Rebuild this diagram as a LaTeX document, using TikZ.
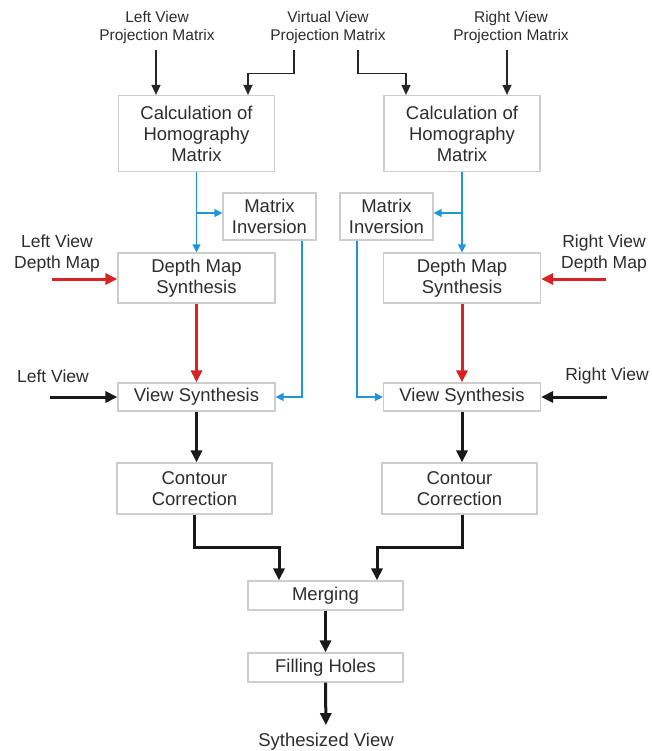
\documentclass[tikz,border=0pt]{standalone}
\usepackage{fontspec}
\setmainfont{Liberation Sans}
\usetikzlibrary{arrows.meta}
\definecolor{boxgray}{RGB}{205,205,205}
\definecolor{lineblue}{RGB}{30,150,215}
\definecolor{linered}{RGB}{215,35,35}
\definecolor{textgray}{RGB}{45,45,45}

\begin{document}
\begin{tikzpicture}[x=1pt,y=-1pt,
    box/.style={draw=boxgray, line width=1.2pt, align=center, text=textgray, inner sep=0pt, font=\fontsize{18.5}{21}\selectfont},
    lbl/.style={align=center, text=textgray, inner sep=0pt, font=\fontsize{17.5}{21}\selectfont},
    toplbl/.style={align=center, text=textgray, inner sep=0pt, font=\fontsize{15.5}{18}\selectfont},
    thinarrow/.style={-{Triangle[length=10pt,width=9pt]}, line width=1.5pt, black!85},
    bluearrow/.style={-{Triangle[length=8pt,width=8pt]}, line width=1.3pt, lineblue},
    redarrow/.style={-{Triangle[length=12pt,width=11pt]}, line width=3pt, linered},
    thickarrow/.style={-{Triangle[length=12pt,width=11pt]}, line width=3pt, black!90}]
    \useasboundingbox (0,0) rectangle (652,751);

    % Projection matrices:
    \node[toplbl] (lproj) at (157,27) {Left View\\Projection Matrix};
    \node[toplbl] (vproj) at (328,27) {Virtual View\\Projection Matrix};
    \node[toplbl] (rproj) at (511,27) {Right View\\Projection Matrix};

    % Boxes, left branch:
    \node[box, minimum width=156pt, minimum height=76pt] (calcL) at (196.5,133.5) {Calculation of\\Homography\\Matrix};
    \node[box, minimum width=93pt, minimum height=47pt] (invL) at (269.5,216.5) {Matrix\\Inversion};
    \node[box, minimum width=157pt, minimum height=50pt] (depthL) at (196.5,278) {Depth Map\\Synthesis};
    \node[box, minimum width=157pt, minimum height=28pt] (viewL) at (196.5,397) {View Synthesis};
    \node[box, minimum width=155pt, minimum height=51pt] (contL) at (194.5,488.5) {Contour\\Correction};

    % Boxes, right branch:
    \node[box, minimum width=156pt, minimum height=76pt] (calcR) at (462,133.5) {Calculation of\\Homography\\Matrix};
    \node[box, minimum width=93pt, minimum height=47pt] (invR) at (386.5,216.5) {Matrix\\Inversion};
    \node[box, minimum width=157pt, minimum height=50pt] (depthR) at (462,278) {Depth Map\\Synthesis};
    \node[box, minimum width=157pt, minimum height=28pt] (viewR) at (462,397) {View Synthesis};
    \node[box, minimum width=155pt, minimum height=51pt] (contR) at (459.5,488.5) {Contour\\Correction};

    % Common part:
    \node[box, minimum width=155pt, minimum height=29pt] (merge) at (325.5,595.5) {Merging};
    \node[box, minimum width=155pt, minimum height=29pt] (fill) at (325.5,667.5) {Filling Holes};
    \node[lbl, font=\fontsize{18.5}{21}\selectfont] (out) at (326,742) {Sythesized View};

    % Side inputs:
    \node[lbl] (ldepth) at (57,253) {Left View\\Depth Map};
    \node[lbl] (rdepth) at (604,253) {Right View\\Depth Map};
    \node[lbl] (lview) at (53,376) {Left View};
    \node[lbl] (rview) at (607,376) {Right View};
    \coordinate (ldin) at (52,279);
    \coordinate (rdin) at (606,279);
    \coordinate (lvin) at (50,397);
    \coordinate (rvin) at (607,397);

    % Top arrows:
    \draw[thinarrow, shorten <=7pt] (lproj.south -| 156,0) -- (calcL.north -| 156,0);
    \draw[thinarrow, shorten <=7pt] ([xshift=-34pt]vproj.south) -- ++(0,30) -| ([xshift=51.5pt]calcL.north);
    \draw[thinarrow, shorten <=7pt] ([xshift=30pt]vproj.south) -- ++(0,30) -| ([xshift=-56pt]calcR.north);
    \draw[thinarrow, shorten <=7pt] (rproj.south -| 507,0) -- (calcR.north -| 507,0);

    % Blue connectors:
    \draw[bluearrow] (calcL.south) -- (depthL.north);
    \draw[bluearrow] (calcL.south |- 0,213) -- (invL.west |- 0,213);
    \draw[bluearrow] ([xshift=32.5pt]invL.south) |- (viewL.east);
    \draw[bluearrow] (calcR.south) -- (depthR.north);
    \draw[bluearrow] (calcR.south |- 0,213) -- (invR.east |- 0,213);
    \draw[bluearrow] ([xshift=-29.5pt]invR.south) |- (viewR.west);

    % Depth maps:
    \draw[redarrow] (ldin) -- (depthL.west |- ldin);
    \draw[redarrow] (rdin) -- (depthR.east |- rdin);
    \draw[redarrow] (depthL.south) -- (viewL.north);
    \draw[redarrow] (depthR.south) -- (viewR.north);

    % Views:
    \draw[thickarrow] (lvin) -- (viewL.west);
    \draw[thickarrow] (rvin) -- (viewR.east);
    \draw[thickarrow] (viewL.south) -- (viewL.south |- contL.north);
    \draw[thickarrow] (viewR.south) -- (viewR.south |- contR.north);
    \draw[thickarrow] (contL.south) -- ++(0,33) -| ([xshift=-46.5pt]merge.north);
    \draw[thickarrow] ([xshift=3pt]contR.south) -- ++(0,33) -| ([xshift=51.5pt]merge.north);
    \draw[thickarrow] (merge.south) -- (fill.north);
    \draw[thickarrow, shorten >=8pt] (fill.south) -- (out.north);
\end{tikzpicture}
\end{document}
